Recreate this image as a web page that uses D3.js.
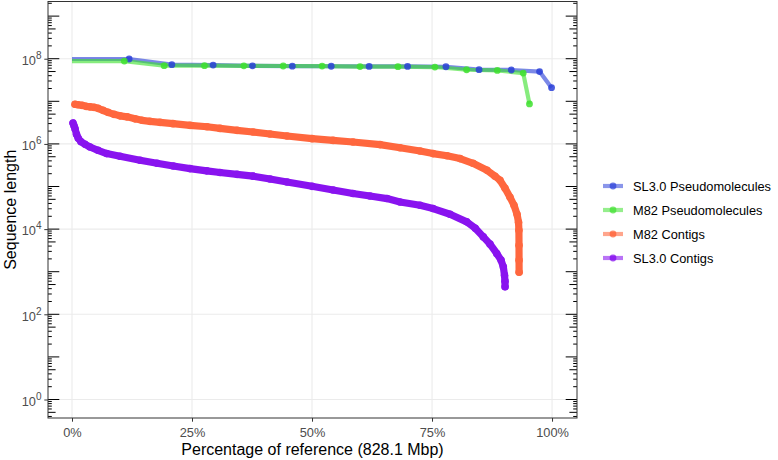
<!DOCTYPE html>
<html>
<head>
<meta charset="utf-8">
<script src="https://cdn.jsdelivr.net/npm/d3@7"></script>
<style>
  html, body { margin: 0; padding: 0; background: #fff; }
  svg { display: block; font-family: "Liberation Sans", Arial, sans-serif; }
</style>
</head>
<body>
<svg id="chart" width="778" height="460"></svg>
<script>
// ---------------- data ----------------
const seriesNames = ["SL3.0 Pseudomolecules", "M82 Pseudomolecules", "M82 Contigs", "SL3.0 Contigs"];
const seriesColors = ["#2A3FD8", "#3EE02E", "#FF5B2E", "#7F00EE"];

// SL3.0 pseudomolecules: cumulative % of reference, length (bp)
const sl30PseudoX = [11.9, 20.8, 29.4, 37.6, 45.9, 54.0, 61.9, 69.9, 77.9, 84.8, 91.5, 97.4, 99.9];
const sl30PseudoY = [98.5e6, 72.5e6, 70.8e6, 68.0e6, 66.7e6, 66.5e6, 65.9e6, 65.9e6, 64.8e6, 55.3e6, 54.4e6, 49.8e6, 20.9e6];

// M82 pseudomolecules
const m82PseudoX = [10.9, 19.2, 27.6, 35.8, 44.0, 52.1, 60.0, 67.9, 75.6, 82.2, 88.6, 94.0, 95.3];
const m82PseudoY = [88e6, 68.7e6, 68.5e6, 67.9e6, 67.5e6, 67.1e6, 65.4e6, 65.0e6, 63.8e6, 55.0e6, 53.0e6, 46.0e6, 8.7e6];

// M82 contigs (sampled along the curve)
const m82ContigX = [0.63, 1.25, 2.08, 2.92, 3.75, 4.58, 5.42, 6.46, 7.50, 8.75, 10.0, 11.46, 13.13, 14.58, 16.25, 18.33,
  21.04, 24.58, 28.13, 30.83, 34.38, 37.71, 41.25, 44.79, 50.0, 54.38, 58.54, 64.17, 68.33, 72.5, 75.21, 78.13,
  80.83, 83.54, 86.46, 88.13, 89.17, 90.21, 91.25, 92.08, 92.71, 93.02, 93.10, 93.12, 93.13, 93.14];
const m82ContigY = [8.5e6, 8.3e6, 8.04e6, 7.62e6, 7.42e6, 7.22e6, 6.84e6, 6.14e6, 5.51e6, 4.94e6, 4.56e6, 4.32e6, 3.88e6, 3.58e6, 3.39e6, 3.21e6,
  2.99e6, 2.73e6, 2.53e6, 2.31e6, 2.08e6, 1.90e6, 1.71e6, 1.53e6, 1.33e6, 1.21e6, 1.11e6, 9.63e5, 8.10e5, 6.82e5, 5.93e5, 5.26e5,
  4.52e5, 3.51e5, 2.40e5, 1.74e5, 1.40e5, 9.10e4, 5.60e4, 3.63e4, 2.23e4, 1.45e4, 9.4e3, 4.19e3, 1.87e3, 975];

// SL3.0 contigs
const sl30ContigX = [0.21, 0.42, 0.63, 0.94, 1.31, 1.88, 2.71, 3.75, 5.42, 7.23, 10.0, 14.17, 17.71, 21.10, 24.58, 28.06,
  30.83, 34.38, 37.71, 41.25, 44.79, 50.0, 54.38, 58.54, 62.08, 65.63, 68.33, 72.5, 75.21, 78.75, 82.23, 84.0,
  85.69, 87.08, 88.48, 89.38, 89.85, 90.10, 90.20, 90.21];
const sl30ContigY = [3.09e6, 2.66e6, 2.28e6, 1.68e6, 1.35e6, 1.12e6, 9.79e5, 8.46e5, 7.08e5, 5.93e5, 5.12e5, 4.13e5, 3.51e5, 3.03e5, 2.63e5, 2.33e5,
  2.13e5, 1.93e5, 1.75e5, 1.50e5, 1.28e5, 1.01e5, 8.30e4, 6.84e4, 5.97e4, 5.21e4, 4.34e4, 3.63e4, 3.04e4, 2.23e4, 1.48e4, 1.05e4,
  6.56e3, 4.43e3, 2.68e3, 1.87e3, 1.30e3, 830, 600, 442];

const xTickValues = [0, 25, 50, 75, 100];
const xTickLabels = ["0%", "25%", "50%", "75%", "100%"];
const yTickExponents = [0, 2, 4, 6, 8];
const xTitle = "Percentage of reference (828.1 Mbp)";
const yTitle = "Sequence length";

// ---------------- layout ----------------
const svg = d3.select("#chart");
const panel = { left: 48, right: 577, top: 1.5, bottom: 418 };

const x = d3.scaleLinear().domain([-5, 105.2]).range([panel.left, panel.right]);
const y = d3.scaleLog().domain([Math.pow(10, -0.434), Math.pow(10, 9.343)]).range([panel.bottom, panel.top]);

// grid
const grid = svg.append("g");
grid.selectAll("line.gx").data(xTickValues).join("line")
  .attr("x1", d => x(d)).attr("x2", d => x(d))
  .attr("y1", panel.top).attr("y2", panel.bottom)
  .attr("stroke", "#EBEBEB").attr("stroke-width", 1.1);
grid.selectAll("line.gy").data(yTickExponents).join("line")
  .attr("x1", panel.left).attr("x2", panel.right)
  .attr("y1", d => y(Math.pow(10, d))).attr("y2", d => y(Math.pow(10, d)))
  .attr("stroke", "#EBEBEB").attr("stroke-width", 1.1);

// data series
const series = [
  { name: seriesNames[0], color: seriesColors[0], xs: sl30PseudoX, ys: sl30PseudoY, kind: "pseudo" },
  { name: seriesNames[1], color: seriesColors[1], xs: m82PseudoX, ys: m82PseudoY, kind: "pseudo" },
  { name: seriesNames[2], color: seriesColors[2], xs: m82ContigX, ys: m82ContigY, kind: "contig" },
  { name: seriesNames[3], color: seriesColors[3], xs: sl30ContigX, ys: sl30ContigY, kind: "contig" }
];
series.forEach(s => { s.pts = s.xs.map((v, i) => ({ x: v, y: s.ys[i] })); });

const line = d3.line().x(d => x(d.x)).y(d => y(d.y));
const smooth = d3.line().x(d => x(d.x)).y(d => y(d.y)).curve(d3.curveMonotoneX);
const plot = svg.append("g");

// contigs: dense point clouds -> uniform band
series.filter(s => s.kind === "contig").forEach(s => {
  const g = plot.append("g").attr("opacity", 0.92);
  g.append("path").datum(s.pts).attr("d", line)
    .attr("fill", "none").attr("stroke", s.color).attr("stroke-width", 7.2)
    .attr("stroke-linejoin", "round").attr("stroke-linecap", "round");
  g.selectAll("circle").data(s.pts).join("circle")
    .attr("cx", d => x(d.x)).attr("cy", d => y(d.y)).attr("r", 3.8)
    .attr("fill", s.color);
});

// pseudomolecules: lines (start at 0% with first length) then points
const pseudo = series.filter(s => s.kind === "pseudo");
pseudo.forEach(s => {
  const linePts = [{ x: 0, y: s.pts[0].y }].concat(s.pts);
  plot.append("path").datum(linePts).attr("d", line)
    .attr("fill", "none").attr("stroke", s.color).attr("stroke-width", 4.2)
    .attr("stroke-opacity", 0.62).attr("stroke-linejoin", "round");
});
pseudo.forEach(s => {
  plot.append("g").selectAll("circle").data(s.pts).join("circle")
    .attr("cx", d => x(d.x)).attr("cy", d => y(d.y)).attr("r", 3.4)
    .attr("fill", s.color).attr("fill-opacity", 0.85);
});

// log ticks (inside, left and right)
const logTicks = [];
for (let e = -1; e <= 9; e++) {
  for (let m = 1; m <= 9; m++) {
    const v = m * Math.pow(10, e);
    const py = y(v);
    if (py >= panel.top - 0.5 && py <= panel.bottom + 0.5) {
      logTicks.push({ v: v, len: m === 1 ? 11.3 : (m === 5 ? 7.6 : 3.8) });
    }
  }
}
const lt = svg.append("g").attr("stroke", "#000").attr("stroke-width", 1);
lt.selectAll("line.l").data(logTicks).join("line")
  .attr("x1", panel.left).attr("x2", d => panel.left + d.len)
  .attr("y1", d => y(d.v)).attr("y2", d => y(d.v));
lt.selectAll("line.r").data(logTicks).join("line")
  .attr("x1", panel.right).attr("x2", d => panel.right - d.len)
  .attr("y1", d => y(d.v)).attr("y2", d => y(d.v));

// panel border
svg.append("rect")
  .attr("x", panel.left).attr("y", panel.top)
  .attr("width", panel.right - panel.left).attr("height", panel.bottom - panel.top)
  .attr("fill", "none").attr("stroke", "#333333").attr("stroke-width", 1);

// axes
const xAxis = d3.axisBottom(x).tickValues(xTickValues)
  .tickFormat((d, i) => xTickLabels[i]).tickSize(3.7).tickPadding(3);
const gx = svg.append("g").attr("transform", `translate(0,${panel.bottom})`).call(xAxis);
gx.select(".domain").remove();
gx.selectAll(".tick line").attr("stroke", "#333333").attr("stroke-width", 1);
gx.selectAll(".tick text").attr("fill", "#4D4D4D").attr("font-size", "12.8px")
  .attr("font-family", "Liberation Sans, Arial, sans-serif").attr("dy", "0.95em");

const yAxis = d3.axisLeft(y).tickValues(yTickExponents.map(e => Math.pow(10, e)))
  .tickFormat("").tickSize(3.7);
const gy = svg.append("g").attr("transform", `translate(${panel.left},0)`).call(yAxis);
gy.select(".domain").remove();
gy.selectAll(".tick line").attr("stroke", "#333333").attr("stroke-width", 1);

// y tick labels with superscripts
const yl = svg.append("g");
yTickExponents.forEach(e => {
  const t = yl.append("text")
    .attr("x", panel.left - 6.5).attr("y", y(Math.pow(10, e)) + 6.2)
    .attr("text-anchor", "end").attr("fill", "#4D4D4D").attr("font-size", "12.8px");
  t.append("tspan").text("10");
  t.append("tspan").attr("font-size", "10px").attr("dy", "-6").text(String(e));
});

// axis titles
svg.append("text").attr("x", (panel.left + panel.right) / 2).attr("y", 455)
  .attr("text-anchor", "middle").attr("font-size", "16px").attr("fill", "#000").text(xTitle);
svg.append("text").attr("transform", `translate(15.5,${(panel.top + panel.bottom) / 2}) rotate(-90)`)
  .attr("text-anchor", "middle").attr("font-size", "16px").attr("fill", "#000").text(yTitle);

// legend
const legendY = [186, 210, 234, 258];
const lg = svg.append("g");
series.forEach((s, i) => {
  const g = lg.append("g").attr("transform", `translate(603,${legendY[i]})`);
  g.append("line").attr("x1", 0).attr("x2", 20).attr("y1", 0).attr("y2", 0)
    .attr("stroke", s.color).attr("stroke-width", 4.2).attr("stroke-opacity", 0.55);
  g.append("circle").attr("cx", 10).attr("cy", 0).attr("r", 3.4)
    .attr("fill", s.color).attr("fill-opacity", 0.7);
  g.append("text").attr("x", 30).attr("y", 4.6).attr("font-size", "12.8px")
    .attr("fill", "#000").text(s.name);
});
</script>
</body>
</html>
